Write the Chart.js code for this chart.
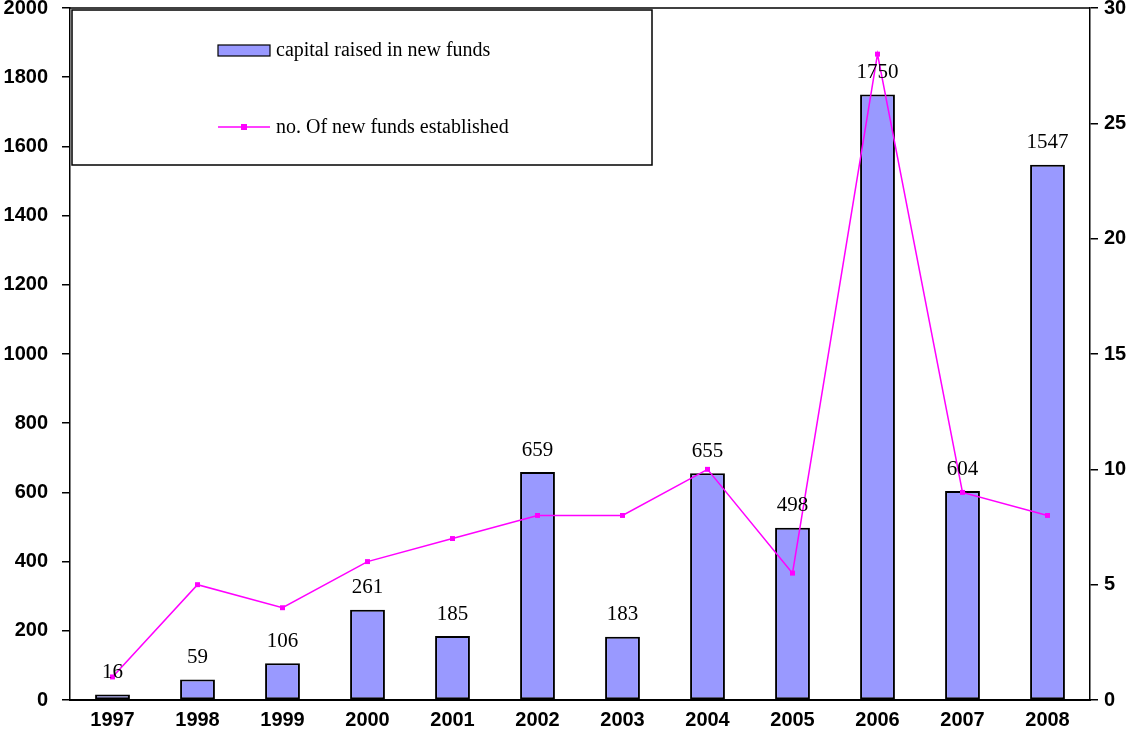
<!DOCTYPE html>
<html>
<head>
<meta charset="utf-8">
<script src="https://cdn.jsdelivr.net/npm/chart.js@4/dist/chart.umd.min.js"></script>
<style>
    html, body { margin: 0; padding: 0; background: #fff; }
    #wrap { width: 1136px; height: 747px; }
</style>
</head>
<body>
<div id="wrap"><canvas id="fundChart" width="1136" height="747"></canvas></div>
<script>
// data
const years = ['1997', '1998', '1999', '2000', '2001', '2002', '2003', '2004', '2005', '2006', '2007', '2008'];
const capitalRaised = [16, 59, 106, 261, 185, 659, 183, 655, 498, 1750, 604, 1547];
const newFunds = [1, 5, 4, 6, 7, 8, 8, 10, 5.5, 28, 9, 8];
const leftTicks = [0, 200, 400, 600, 800, 1000, 1200, 1400, 1600, 1800, 2000];
const rightTicks = [0, 5, 10, 15, 20, 25, 30];

const barLabel = 'capital raised in new funds';
const lineLabel = 'no. Of new funds established';

const tickFont = { family: 'Liberation Sans', size: 20, weight: 'bold' };

// 막대 위 값 + 윗 테두리 + 범례 박스
const extrasPlugin = {
    id: 'extras',
    afterDatasetsDraw(chart) {
        const ctx = chart.ctx;
        const area = chart.chartArea;
        ctx.save();

        // 값 라벨
        const meta = chart.getDatasetMeta(0);
        ctx.font = '21px "Liberation Serif"';
        ctx.fillStyle = '#000';
        ctx.textAlign = 'center';
        ctx.textBaseline = 'middle';
        meta.data.forEach((bar, i) => {
            ctx.fillText(String(capitalRaised[i]), bar.x, bar.y - 22);
        });

        // 위쪽 테두리
        ctx.strokeStyle = '#000';
        ctx.lineWidth = 1.5;
        ctx.beginPath();
        ctx.moveTo(area.left, area.top);
        ctx.lineTo(area.right, area.top);
        ctx.stroke();

        // 범례
        const bx = area.left + 2, by = area.top + 2, bw = 580, bh = 155;
        ctx.fillStyle = '#fff';
        ctx.fillRect(bx, by, bw, bh);
        ctx.lineWidth = 1.5;
        ctx.strokeRect(bx, by, bw, bh);

        const sx = bx + 146;
        ctx.fillStyle = '#9999FF';
        ctx.fillRect(sx, by + 35, 52, 11);
        ctx.lineWidth = 1.2;
        ctx.strokeRect(sx, by + 35, 52, 11);

        ctx.strokeStyle = '#FF00FF';
        ctx.lineWidth = 1.5;
        ctx.beginPath();
        ctx.moveTo(sx, by + 117);
        ctx.lineTo(sx + 52, by + 117);
        ctx.stroke();
        ctx.fillStyle = '#FF00FF';
        ctx.fillRect(sx + 23, by + 114, 6, 6);

        ctx.fillStyle = '#000';
        ctx.font = '20px "Liberation Serif"';
        ctx.textAlign = 'left';
        ctx.fillText(barLabel, sx + 58, by + 41);
        ctx.fillText(lineLabel, sx + 58, by + 118);

        ctx.restore();
    }
};

let fitVertical = (width) => (s) => {
    s.width = width;
    s.paddingTop = 0;
    s.paddingBottom = 0;
};

let setFundChartConfig = () => {
    let config = {
        data: {
            labels: years,
            datasets: [{
                type: 'bar',
                label: barLabel,
                data: capitalRaised,
                backgroundColor: '#9999FF',
                borderColor: '#000',
                borderWidth: 2,
                borderSkipped: false,
                categoryPercentage: 1.0,
                barPercentage: 0.41,
                yAxisID: 'y',
                order: 2
            }, {
                type: 'line',
                label: lineLabel,
                data: newFunds,
                borderColor: '#FF00FF',
                backgroundColor: '#FF00FF',
                borderWidth: 1.5,
                pointStyle: 'rect',
                pointRadius: 3.5,
                pointBorderWidth: 0,
                tension: 0,
                yAxisID: 'y1',
                order: 1
            }]
        },
        options: {
            responsive: false,
            maintainAspectRatio: false,
            animation: { duration: 0 },
            layout: { padding: { top: 8 } },
            plugins: {
                legend: { display: false },
                tooltip: { enabled: false }
            },
            scales: {
                x: {
                    offset: true,
                    grid: { display: false },
                    border: { display: true, color: '#000', width: 2 },
                    ticks: { color: '#000', font: tickFont, padding: 0, maxRotation: 0 },
                    afterFit: (s) => { s.height = 47; s.paddingLeft = 0; s.paddingRight = 0; }
                },
                y: {
                    position: 'left',
                    min: 0,
                    max: 2000,
                    afterBuildTicks: (s) => { s.ticks = leftTicks.map(v => ({ value: v })); },
                    grid: { drawOnChartArea: false, color: '#000', tickLength: 8, lineWidth: 1.5 },
                    border: { display: true, color: '#000', width: 1.5 },
                    ticks: { color: '#000', font: tickFont, padding: 14, callback: (v) => String(v) },
                    afterFit: fitVertical(70)
                },
                y1: {
                    position: 'right',
                    min: 0,
                    max: 30,
                    afterBuildTicks: (s) => { s.ticks = rightTicks.map(v => ({ value: v })); },
                    grid: { drawOnChartArea: false, color: '#000', tickLength: 8, lineWidth: 1.5 },
                    border: { display: true, color: '#000', width: 1.5 },
                    ticks: { color: '#000', font: tickFont, padding: 6, callback: (v) => String(v) },
                    afterFit: fitVertical(46)
                }
            }
        },
        plugins: [extrasPlugin]
    };
    return config;
};

let fundChart = new Chart(document.getElementById('fundChart'), setFundChartConfig());
</script>
</body>
</html>
